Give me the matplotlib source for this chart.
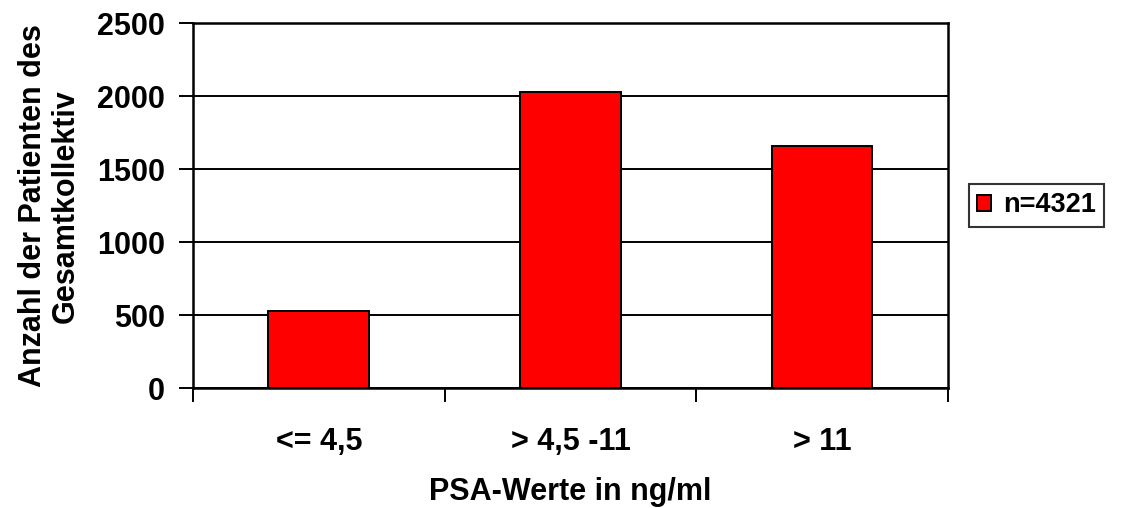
import matplotlib
matplotlib.use("Agg")
import matplotlib.pyplot as plt
import numpy as np

# PSA groups and patient counts
categories = ["<= 4,5", "> 4,5 -11", "> 11"]
counts = [531, 2031, 1662]
series_label = "n=4321"
y_ticks = [0, 500, 1000, 1500, 2000, 2500]

plt.rcParams['font.family'] = ['Liberation Sans', 'DejaVu Sans']
plt.rcParams['font.weight'] = 'bold'

fig = plt.figure(figsize=(11.26, 5.08), dpi=100)
ax = fig.add_axes([0.1714, 0.2356, 0.6705, 0.7185])

x = np.arange(len(categories))
ax.set_axisbelow(True)
ax.yaxis.grid(True, color='black', linewidth=1.4)
ax.bar(x, counts, width=0.4, color='#ff0000', edgecolor='black',
       linewidth=1.4, label=series_label, zorder=3)

ax.set_xlim(-0.5, len(categories) - 0.5)
ax.set_ylim(0, 2500)
ax.set_yticks(y_ticks)
ax.set_yticklabels([str(v) for v in y_ticks], fontsize=22, fontweight='bold')

# major ticks on the group boundaries, labels under the bars
ax.set_xticks(np.arange(-0.5, len(categories), 1.0))
ax.set_xticklabels([])
ax.set_xticks(x, minor=True)
ax.set_xticklabels(categories, minor=True, fontsize=22, fontweight='bold')
ax.tick_params(axis='x', which='minor', length=0, pad=28)
ax.tick_params(axis='x', which='major', length=10, width=1.4, direction='out')
ax.tick_params(axis='y', length=10, width=1.4, direction='out', pad=10)

for s in ax.spines.values():
    s.set_linewidth(1.8)
    s.set_color('black')

ax.set_xlabel("PSA-Werte in ng/ml", fontsize=22, fontweight='bold', labelpad=14)
ax.set_ylabel("Anzahl der Patienten des\nGesamtkollektiv", fontsize=22,
              fontweight='bold', labelpad=12, linespacing=1.1)

leg = fig.legend(loc='center left', bbox_to_anchor=(0.8606, 0.5955),
                 fontsize=19.5, frameon=True, fancybox=False, edgecolor='black',
                 handlelength=0.5, handleheight=0.5, handletextpad=0.45,
                 borderpad=0.3, borderaxespad=0)
leg.get_frame().set_linewidth(1.5)
for t in leg.get_texts():
    t.set_fontweight('bold')

fig.savefig("out.png", dpi=100)
